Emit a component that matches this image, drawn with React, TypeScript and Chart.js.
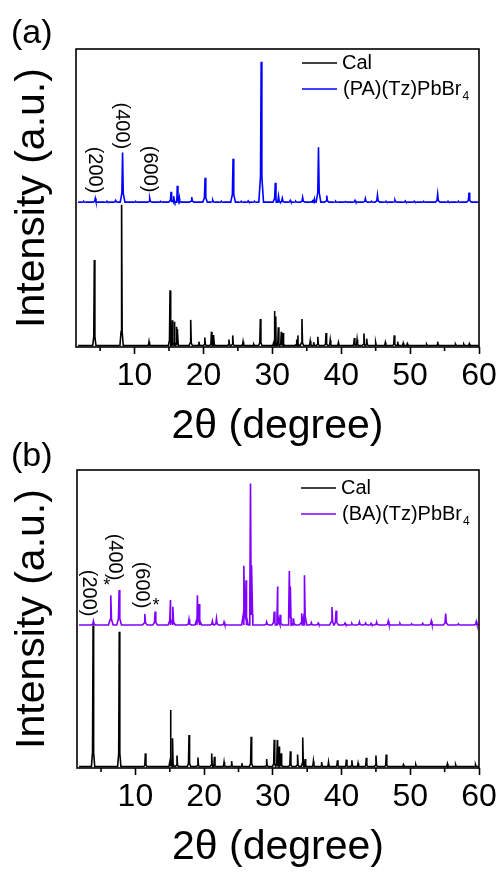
import React, { useEffect, useRef } from "react";
import { Chart, registerables } from "chart.js";
Chart.register(...registerables);

const FONT = "'Liberation Sans', Arial, Helvetica, sans-serif";

// ---- shared axis data ----
const X_MIN = 1.5;
const X_MAX = 60;
const X_STEP = 10;
const X_MINOR_TICKS = [5, 15, 25, 35, 45, 55];
const X_TITLE = "2θ (degree)";
const Y_TITLE = "Intensity (a.u.)";

// ---- panel (a) ----
const A_CAL_BASE = 0.5;
const A_CAL_PEAKS: [number, number][] = [
  [4.16, 29.2], [8.12, 47.7], [12.1, 1.8], [15.15, 19.0], [15.5, 9.0], [15.75, 8.5], [16.1, 6.8], [16.25, 6.0],
  [18.15, 9.1], [19.35, 1.8], [20.2, 3.2], [21.16, 5.1], [21.5, 4.0], [23.7, 2.5], [24.25, 3.9], [25.75, 1.8],
  [27.3, 0.9], [28.26, 9.4], [30.3, 12.1], [30.5, 10.2], [30.87, 6.6], [31.3, 5.1], [31.55, 4.7], [33.5, 2.5],
  [33.72, 3.9], [34.3, 9.4], [35.5, 2.0], [36.0, 1.6], [36.6, 3.4], [37.8, 4.7], [38.4, 2.3], [39.6, 1.5],
  [41.9, 3.0], [42.3, 2.5], [43.3, 4.5], [43.7, 2.8], [45.0, 1.5], [46.4, 1.5], [47.7, 3.9], [48.2, 1.8],
  [49.0, 1.3], [49.6, 1.1], [52.4, 0.9], [54.0, 1.8], [56.6, 0.9], [57.8, 0.9], [58.6, 1.1],
];
const A_EXP_BASE = 48.6;
const A_EXP_PEAKS: [number, number][] = [
  [2.6, 48.9], [4.3, 49.9], [6.0, 48.9], [7.25, 49.2], [8.26, 65.3], [10.2, 48.8], [12.2, 49.9], [13.8, 48.8],
  [15.3, 52.1], [15.7, 50.6], [16.2, 54.1], [16.5, 50.0], [18.3, 50.3], [20.24, 56.8], [21.35, 49.3],
  [22.6, 48.9], [24.3, 63.2], [25.5, 48.9], [26.5, 49.0], [27.4, 48.9], [28.38, 95.7],
  [30.43, 55.1], [30.9, 50.7], [31.45, 49.9], [32.6, 49.2], [33.4, 48.9], [34.4, 50.2], [35.8, 49.4], [36.1, 49.6],
  [36.7, 67.0], [37.9, 50.8], [39.2, 48.9], [40.6, 48.8], [42.0, 49.2], [43.5, 49.8], [44.4, 48.9],
  [45.26, 51.0], [46.5, 48.9], [47.8, 49.3], [49.3, 49.0], [50.6, 48.9], [52.0, 48.8],
  [54.0, 51.3], [55.5, 48.9], [57.0, 48.9], [58.55, 51.8],
];
const A_LABELS: [string, number, number][] = [
  ["(200)", 4.2, 59.4], ["(400)", 8.1, 74.2], ["(600)", 12.1, 59.7],
];
const A_SERIES_NAME = "(PA)(Tz)PbBr";
const A_COLOR = "#0000FF";

// ---- panel (b) ----
const B_CAL_BASE = 0.5;
const B_CAL_PEAKS: [number, number][] = [
  [3.84, 47.9], [7.65, 45.7], [11.45, 4.9], [15.12, 19.5], [15.4, 10.0], [16.05, 4.2], [17.8, 11.1], [19.1, 3.5],
  [21.1, 4.9], [21.5, 3.8], [22.9, 2.0], [24.0, 2.3], [25.5, 1.6], [26.84, 10.5], [29.1, 3.0], [30.2, 9.5],
  [30.65, 9.4], [30.9, 7.2], [31.2, 4.9], [32.55, 5.6], [33.6, 4.5], [34.35, 10.2], [34.7, 3.0], [35.9, 2.3],
  [37.1, 2.0], [38.1, 2.0], [39.4, 2.6], [40.7, 2.8], [41.5, 2.6], [42.4, 1.6], [43.6, 3.4], [45.0, 4.2],
  [46.5, 4.5], [49.0, 1.1], [50.8, 1.1], [55.4, 1.4], [56.6, 1.1], [59.5, 1.1],
];
const B_EXP_BASE = 48.0;
const B_EXP_PEAKS: [number, number][] = [
  [3.89, 49.3], [6.42, 58.0], [7.63, 59.7], [11.37, 51.7], [12.87, 52.5], [15.1, 56.4], [15.45, 54.1],
  [17.8, 49.9], [19.02, 58.0], [19.3, 55.0], [21.2, 49.3], [21.8, 50.2], [22.9, 49.0], [25.8, 67.9],
  [26.1, 63.0], [26.75, 95.5], [26.95, 68.0], [29.1, 49.0], [30.2, 52.5], [30.7, 60.9], [31.05, 51.4],
  [32.4, 66.1], [32.6, 60.9], [33.0, 50.2], [34.2, 51.9], [34.6, 64.7], [35.6, 48.8], [36.6, 48.6],
  [38.6, 54.0], [39.2, 52.8], [40.5, 48.6], [41.5, 48.5], [42.6, 49.0], [43.5, 48.6], [44.3, 48.5],
  [45.1, 49.0], [46.8, 49.3], [48.5, 48.5], [50.2, 48.4], [51.8, 48.5], [53.06, 49.3],
  [55.15, 51.8], [57.0, 48.4], [59.6, 49.2],
];
const B_LABELS: [string, number, number][] = [
  ["(200)", 3.19, 58.7], ["(400)", 6.97, 70.8], ["(600)", 10.9, 61.4],
];
const B_STARS: [number, number][] = [[5.84, 62.4], [13.0, 55.7]];
const B_SERIES_NAME = "(BA)(Tz)PbBr";
const B_COLOR = "#8000FF";

const CAL_NAME = "Cal";
const SUBSCRIPT = "4";

// relative peak profile (offset in degrees, fraction of peak height)
const CAL_SHAPE = [[-0.24, 0], [-0.08, 0.1], [0, 1], [0.08, 0.1], [0.24, 0]];
const EXP_SHAPE = [[-0.34, 0], [-0.1, 0.18], [0, 1], [0.1, 0.18], [0.34, 0]];

function buildTrace(base: number, peaks: [number, number][], shape: number[][]) {
  const pts: { x: number; y: number }[] = [{ x: X_MIN + 0.3, y: base }];
  for (const [pos, top] of peaks) {
    for (const [dx, f] of shape) pts.push({ x: pos + dx, y: base + f * (top - base) });
  }
  pts.push({ x: X_MAX - 0.05, y: base });
  pts.sort((a, b) => a.x - b.x);
  return pts;
}

type PanelCfg = {
  top: number;
  height: number;
  plotTop: number;
  plotBottom: number;
  plotLeft: number;
  plotRight: number;
  letter: string;
  letterY: number;
  legendY1: number;
  legendY2: number;
  legendX: number;
  name: string;
  color: string;
  calBase: number;
  calPeaks: [number, number][];
  expBase: number;
  expPeaks: [number, number][];
  labels: [string, number, number][];
  stars: [number, number][];
  xTitlePad: number;
};

const PANELS: PanelCfg[] = [
  {
    top: 0, height: 460, plotTop: 49, plotBottom: 347, plotLeft: 76, plotRight: 479,
    letter: "(a)", letterY: 43, legendY1: 63, legendY2: 89, legendX: 302,
    name: A_SERIES_NAME, color: A_COLOR, calBase: A_CAL_BASE, calPeaks: A_CAL_PEAKS,
    expBase: A_EXP_BASE, expPeaks: A_EXP_PEAKS, labels: A_LABELS, stars: [], xTitlePad: 10,
  },
  {
    top: 430, height: 443, plotTop: 40, plotBottom: 338, plotLeft: 77, plotRight: 479,
    letter: "(b)", letterY: 36, legendY1: 58, legendY2: 84, legendX: 301,
    name: B_SERIES_NAME, color: B_COLOR, calBase: B_CAL_BASE, calPeaks: B_CAL_PEAKS,
    expBase: B_EXP_BASE, expPeaks: B_EXP_PEAKS, labels: B_LABELS, stars: B_STARS, xTitlePad: 2,
  },
];

function Panel({ cfg }: { cfg: PanelCfg }) {
  const ref = useRef<HTMLCanvasElement | null>(null);
  useEffect(() => {
    const canvas = ref.current!;
    const decor = {
      id: "decor",
      afterDraw(chart: any) {
        const { ctx, chartArea } = chart;
        const xs = chart.scales.x;
        const ys = chart.scales.y;
        ctx.save();
        // frame
        ctx.strokeStyle = "#000";
        ctx.lineWidth = 1.6;
        ctx.strokeRect(chartArea.left, chartArea.top, chartArea.right - chartArea.left, chartArea.bottom - chartArea.top);
        // minor ticks
        for (const v of X_MINOR_TICKS) {
          const px = xs.getPixelForValue(v);
          ctx.beginPath();
          ctx.moveTo(px, chartArea.bottom);
          ctx.lineTo(px, chartArea.bottom + 4);
          ctx.stroke();
        }
        // panel letter
        ctx.fillStyle = "#000";
        ctx.font = `34px ${FONT}`;
        ctx.textAlign = "left";
        ctx.textBaseline = "alphabetic";
        ctx.fillText(cfg.letter, 11, cfg.letterY);
        // legend
        const lx = cfg.legendX;
        ctx.lineWidth = 1.5;
        ctx.strokeStyle = "#000";
        ctx.beginPath();
        ctx.moveTo(lx, cfg.legendY1);
        ctx.lineTo(lx + 35, cfg.legendY1);
        ctx.stroke();
        ctx.strokeStyle = cfg.color;
        ctx.beginPath();
        ctx.moveTo(lx, cfg.legendY2);
        ctx.lineTo(lx + 35, cfg.legendY2);
        ctx.stroke();
        ctx.font = `20px ${FONT}`;
        ctx.textBaseline = "middle";
        ctx.fillText(CAL_NAME, lx + 40, cfg.legendY1);
        ctx.fillText(cfg.name, lx + 41, cfg.legendY2);
        const w = ctx.measureText(cfg.name).width;
        ctx.font = `12px ${FONT}`;
        ctx.fillText(SUBSCRIPT, lx + 42 + w, cfg.legendY2 + 8);
        // peak labels
        ctx.font = `20px ${FONT}`;
        ctx.textAlign = "center";
        for (const [t, x, y] of cfg.labels) {
          ctx.save();
          ctx.translate(xs.getPixelForValue(x), ys.getPixelForValue(y));
          ctx.rotate(Math.PI / 2);
          ctx.fillText(t, 0, 0);
          ctx.restore();
        }
        ctx.font = `18px ${FONT}`;
        for (const [x, y] of cfg.stars) {
          ctx.fillText("*", xs.getPixelForValue(x), ys.getPixelForValue(y) + 4);
        }
        ctx.restore();
      },
    };
    const chart = new Chart(canvas, {
      type: "line",
      data: {
        datasets: [
          {
            label: cfg.name + SUBSCRIPT,
            data: buildTrace(cfg.expBase, cfg.expPeaks, EXP_SHAPE),
            borderColor: cfg.color,
            borderWidth: 1.6,
            pointRadius: 0,
            tension: 0,
          },
          {
            label: CAL_NAME,
            data: buildTrace(cfg.calBase, cfg.calPeaks, CAL_SHAPE),
            borderColor: "#000",
            borderWidth: 1.6,
            pointRadius: 0,
            tension: 0,
          },
        ],
      },
      options: {
        responsive: false,
        animation: false,
        devicePixelRatio: 1,
        events: [],
        layout: { padding: { left: 0, right: 501 - cfg.plotRight, top: cfg.plotTop, bottom: 0 } },
        plugins: { legend: { display: false }, tooltip: { enabled: false } },
        scales: {
          x: {
            type: "linear",
            min: X_MIN,
            max: X_MAX,
            afterFit: (s: any) => { s.height = cfg.height - cfg.plotBottom; },
            ticks: {
              stepSize: X_STEP, includeBounds: false, autoSkip: false, maxRotation: 0,
              color: "#000", padding: 3, font: { family: FONT, size: 32 },
            },
            grid: { display: true, drawOnChartArea: false, drawTicks: true, tickLength: 7, tickWidth: 1.6, tickColor: "#000" },
            border: { display: false },
            title: {
              display: true, text: X_TITLE, color: "#000",
              font: { family: FONT, size: 41 }, padding: { top: 0, bottom: cfg.xTitlePad - 1 },
            },
          },
          y: {
            type: "linear",
            min: 0,
            max: 100,
            afterFit: (s: any) => { s.width = cfg.plotLeft; },
            ticks: { display: false },
            grid: { display: false },
            border: { display: false },
            title: {
              display: true, text: Y_TITLE, color: "#000",
              font: { family: FONT, size: 41 }, padding: { top: 8, bottom: 0 },
            },
          },
        },
      },
      plugins: [decor],
    } as any);
    return () => chart.destroy();
  }, [cfg]);
  return (
    <canvas
      ref={ref}
      width={501}
      height={cfg.height}
      style={{ position: "absolute", left: 0, top: cfg.top, width: 501, height: cfg.height }}
    />
  );
}

export default function App() {
  return (
    <div style={{ position: "absolute", left: 0, top: 0, width: 501, height: 873, background: "#fff" }}>
      {PANELS.map((p) => (
        <Panel key={p.letter} cfg={p} />
      ))}
    </div>
  );
}
